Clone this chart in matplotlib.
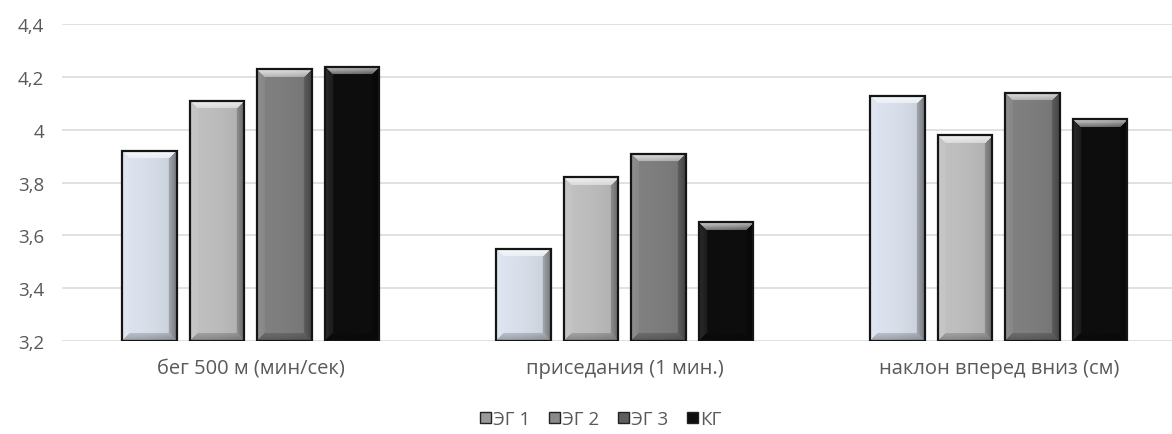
import numpy as np
import matplotlib
matplotlib.use("Agg")
import matplotlib.pyplot as plt
from matplotlib.patches import Rectangle
from matplotlib.ticker import FixedLocator, FuncFormatter
from matplotlib.colors import to_rgb

# --- data -------------------------------------------------------------
categories = ["бег 500 м (мин/сек)", "приседания (1 мин.)", "наклон вперед вниз (см)"]
series_names = ["ЭГ 1", "ЭГ 2", "ЭГ 3", "КГ"]
eg1 = [3.92, 3.55, 4.13]
eg2 = [4.11, 3.82, 3.98]
eg3 = [4.23, 3.91, 4.14]
kg = [4.24, 3.65, 4.04]
y_ticks = [3.2, 3.4, 3.6, 3.8, 4.0, 4.2, 4.4]

series_values = [eg1, eg2, eg3, kg]
series_colors = ["#dce3ee", "#c0c0c0", "#808080", "#0e0e0e"]

plt.rcParams["font.family"] = ["Open Sans", "DejaVu Sans"]

fig = plt.figure(figsize=(11.72, 4.35), dpi=100)
ax = fig.add_axes([62 / 1172, 93 / 435, 1 - 62 / 1172, (342 - 25.3) / 435])

x = np.arange(len(categories))
step = 0.1804
width = 0.1456
ax.set_xlim(-0.504, 2.463)
ax.set_ylim(y_ticks[0], y_ticks[-1])

ax.yaxis.set_major_locator(FixedLocator(y_ticks))
ax.yaxis.set_major_formatter(FuncFormatter(
    lambda v, _: (f"{v:.1f}".rstrip("0").rstrip(".")).replace(".", ",")))
ax.grid(axis="y", color="#dcd7d7", linewidth=1.1)
ax.set_axisbelow(True)
for s in ax.spines.values():
    s.set_visible(False)
ax.tick_params(axis="y", length=0, pad=13, labelsize=13.5, labelcolor="#595959")
ax.tick_params(axis="x", length=0, pad=12, labelsize=14.5, labelcolor="#595959")
ax.set_xticks(x)
ax.set_xticklabels(categories)


def bevel_rgb(color, w, h, b=8.0):
    """Pixel image of a bevelled bar face: light top facet, darker sides/bottom."""
    base = np.array(to_rgb(color))
    w = max(int(round(w)), 2)
    h = max(int(round(h)), 2)
    yy, xx = np.mgrid[0:h, 0:w] + 0.5
    d = np.stack([yy, h - yy, xx, w - xx])
    which = d.argmin(0)
    dmin = d.min(0)
    strength = np.array([0.82, -0.30, 0.12, -0.38])
    s = strength[which] * (dmin < b) * (0.5 + 0.5 * np.clip(1 - dmin / b, 0, 1))
    # soft horizontal shading over the face
    s = s - 0.10 * (xx / w) ** 2
    s = s[..., None]
    img = np.where(s > 0, base + s * (1 - base), base * (1 + s))
    return np.clip(img, 0, 1)


for i, (vals, col) in enumerate(zip(series_values, series_colors)):
    offs = (i - 1.5) * step
    for xi, v in zip(x, vals):
        x0, x1 = xi + offs - width / 2, xi + offs + width / 2
        p0 = ax.transData.transform((x0, y_ticks[0]))
        p1 = ax.transData.transform((x1, v))
        img = bevel_rgb(col, p1[0] - p0[0], p1[1] - p0[1])
        ax.imshow(img, extent=(x0, x1, y_ticks[0], v), aspect="auto",
                  origin="upper", interpolation="bilinear", zorder=2)
        ax.add_patch(Rectangle((x0, y_ticks[0]), width, v - y_ticks[0],
                               fill=False, edgecolor="#151515", linewidth=1.6,
                               zorder=3))

ax.set_xlim(-0.504, 2.463)
ax.set_ylim(y_ticks[0], y_ticks[-1])

handles = [Rectangle((0, 0), 1, 1, facecolor=c, edgecolor="#222222", linewidth=1.0)
           for c in ["#9a9a9a", "#8a8a8a", "#5e5e5e", "#0e0e0e"]]
fig.legend(handles, series_names, loc="center", bbox_to_anchor=(601 / 1172, 1 - 420 / 435),
           ncol=4, frameon=False, fontsize=13.5, labelcolor="#595959",
           handlelength=0.55, handleheight=0.55, handletextpad=0.15, columnspacing=1.0)

fig.savefig("out.png", dpi=100, facecolor="white")
